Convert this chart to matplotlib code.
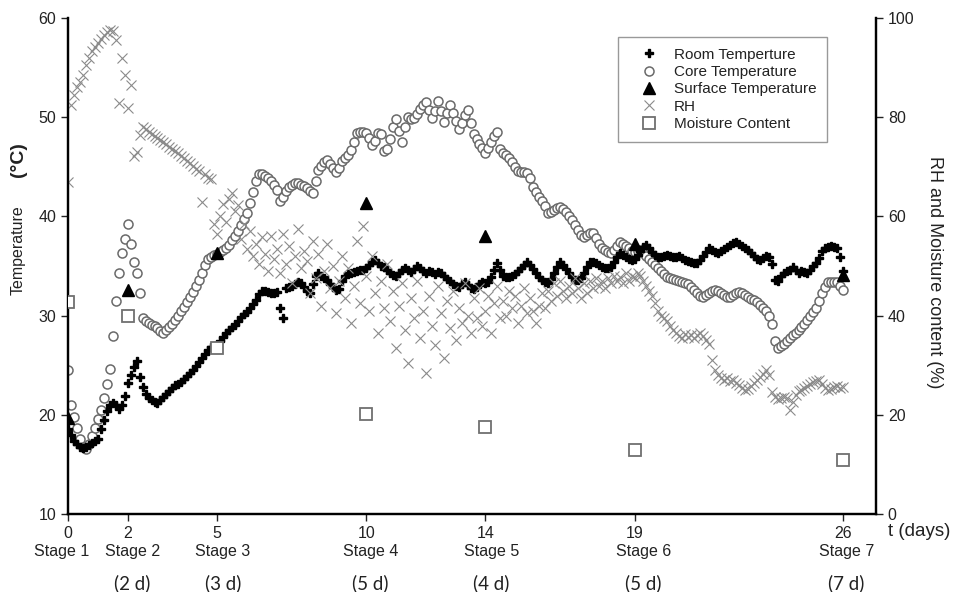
import numpy as np
import matplotlib.pyplot as plt

plt.rcParams['font.family'] = ['Liberation Sans', 'DejaVu Sans']

# readings every 0.1 day
days = np.round(np.arange(0, 26.05, 0.1), 1)

room_temp = [
    18.6, 18.0, 17.4, 17.1, 16.8, 16.7, 16.8, 17.0, 17.2, 17.4,
    17.6, 18.6, 19.5, 20.4, 21.0, 21.2, 21.0, 20.6, 21.0, 21.9,
    23.2, 24.0, 24.8, 25.4, 23.8, 22.8, 22.1, 21.7, 21.5, 21.3,
    21.2, 21.5, 21.8, 22.1, 22.4, 22.7, 23.0, 23.1, 23.3, 23.6,
    23.9, 24.2, 24.5, 24.9, 25.3, 25.7, 26.1, 26.5, 26.8, 26.9,
    27.0, 27.4, 27.8, 28.2, 28.5, 28.8, 29.1, 29.5, 29.9, 30.2,
    30.4, 30.8, 31.2, 31.6, 32.2, 32.5, 32.5, 32.4, 32.3, 32.3,
    32.4, 30.8, 29.8, 32.8, 32.9, 33.0, 33.2, 33.4, 33.3, 32.9,
    32.5, 32.3, 33.2, 34.0, 34.3, 34.0, 33.8, 33.6, 33.2, 32.9,
    32.6, 32.7, 33.5, 34.0, 34.2, 34.3, 34.4, 34.5, 34.6, 34.6,
    34.8, 35.1, 35.4, 35.6, 35.3, 35.0, 34.9, 34.6, 34.3, 34.1,
    34.0, 34.3, 34.6, 34.8, 34.6, 34.4, 34.7, 35.0, 34.8, 34.5,
    34.3, 34.5, 34.4, 34.2, 34.4, 34.3, 34.0, 33.7, 33.5, 33.2,
    33.0, 32.9, 33.2, 33.4, 33.1, 32.8, 32.7, 32.9, 33.2, 33.4,
    33.3, 33.4, 33.9, 34.6, 35.3, 34.6, 34.0, 33.9, 33.9, 34.0,
    34.2, 34.5, 34.8, 35.1, 35.4, 35.1, 34.7, 34.3, 33.9, 33.6,
    33.4, 33.3, 33.7, 34.3, 34.9, 35.4, 35.1, 34.7, 34.3, 33.9,
    33.6, 33.6, 33.8, 34.3, 34.9, 35.4, 35.4, 35.3, 35.1, 34.9,
    34.8, 34.8, 34.9, 35.4, 35.9, 36.3, 36.1, 35.9, 35.7, 35.6,
    35.7, 36.1, 36.5, 36.9, 37.1, 36.8, 36.4, 36.1, 35.9, 35.9,
    36.0, 36.1, 36.0, 35.9, 35.9, 36.0, 35.8, 35.6, 35.5, 35.4,
    35.3, 35.3, 35.6, 36.0, 36.4, 36.8, 36.6, 36.4, 36.3, 36.5,
    36.7, 36.9, 37.1, 37.3, 37.4, 37.2, 37.0, 36.8, 36.6, 36.3,
    36.0, 35.7, 35.6, 35.8, 36.0, 35.9, 35.2, 33.6, 33.5, 34.0,
    34.3, 34.5, 34.6, 34.9, 34.6, 34.3, 34.5, 34.4, 34.3, 34.6,
    35.0, 35.3, 35.8, 36.5, 36.8, 36.9, 37.0, 36.9, 36.8, 35.9,
    34.5,
]

core_temp = [
    24.5, 21.0, 19.8, 18.7, 17.6, 16.8, 16.5, 17.1, 17.9, 18.7,
    19.6, 20.5, 21.7, 23.1, 24.6, 27.9, 31.5, 34.3, 36.3, 37.7,
    39.2, 37.2, 35.4, 34.3, 32.3, 29.8, 29.5, 29.3, 29.1, 28.9,
    28.7, 28.4, 28.2, 28.5, 28.8, 29.2, 29.6, 30.0, 30.5, 30.9,
    31.4, 31.9, 32.4, 33.0, 33.6, 34.3, 35.1, 35.7, 35.9, 36.1,
    36.2, 36.4, 36.6, 36.8, 37.1, 37.6, 38.0, 38.5, 39.1, 39.7,
    40.3, 41.4, 42.5, 43.6, 44.3, 44.3, 44.1, 43.9, 43.6, 43.2,
    42.7, 41.6, 42.0, 42.6, 43.0, 43.2, 43.4, 43.4, 43.2, 43.1,
    42.9, 42.6, 42.4, 43.6, 44.7, 45.1, 45.5, 45.7, 45.3, 44.9,
    44.5, 44.9, 45.6, 45.9, 46.2, 46.7, 47.5, 48.4, 48.5, 48.5,
    48.4, 47.9, 47.2, 47.6, 48.4, 48.3, 46.6, 46.8, 47.8, 49.0,
    49.8, 48.6, 47.5, 49.0, 50.0, 49.8, 49.9, 50.3, 50.8, 51.2,
    51.5, 50.7, 49.9, 50.6, 51.6, 50.6, 49.5, 50.4, 51.2, 50.4,
    49.6, 48.8, 49.4, 50.2, 50.7, 49.4, 48.3, 47.8, 47.3, 46.9,
    46.4, 46.9, 47.5, 48.1, 48.5, 46.8, 46.4, 46.2, 45.9, 45.5,
    45.0, 44.6, 44.5, 44.5, 44.4, 43.9, 43.0, 42.5, 42.0, 41.6,
    41.0, 40.3, 40.4, 40.6, 40.8, 40.9, 40.7, 40.4, 40.0, 39.6,
    39.1, 38.6, 38.1, 37.9, 38.1, 38.3, 38.3, 37.8, 37.2, 36.8,
    36.6, 36.4, 36.3, 36.6, 37.0, 37.4, 37.2, 37.0, 36.8, 36.5,
    36.4, 36.5, 36.6, 36.3, 36.0, 35.7, 35.4, 35.1, 34.8, 34.5,
    34.2, 33.9, 33.8, 33.7, 33.6, 33.5, 33.4, 33.3, 33.2, 32.9,
    32.6, 32.3, 32.0, 31.9, 32.1, 32.3, 32.5, 32.6, 32.5, 32.3,
    32.1, 31.9, 31.9, 32.1, 32.3, 32.4, 32.3, 32.1, 31.9, 31.7,
    31.6, 31.4, 31.1, 30.8, 30.5, 30.0, 29.2, 27.4, 26.7, 26.9,
    27.1, 27.4, 27.7, 28.0, 28.2, 28.5, 28.8, 29.2, 29.6, 30.0,
    30.4, 30.8, 31.5, 32.3, 32.9, 33.4, 33.4, 33.4, 33.4, 33.0,
    32.6,
]

rh = [
    67.0, 82.5, 84.5, 86.0, 87.0, 88.5, 90.5, 92.0, 93.3, 94.2,
    95.0, 95.8, 96.5, 97.1, 97.6, 97.3, 95.5, 82.8, 92.0, 88.5,
    81.9, 86.5, 72.2, 73.0, 76.5, 78.0, 77.6, 77.0, 76.6, 76.2,
    75.8, 75.4, 75.0, 74.5, 74.0, 73.6, 73.1, 72.7, 72.2, 71.8,
    71.2, 70.7, 70.2, 69.6, 69.2, 63.0, 68.5, 67.8, 67.5, 58.5,
    56.5, 60.0, 62.5, 58.8, 63.5, 64.8, 61.0, 62.2, 55.5, 58.5,
    53.5, 57.0, 52.0, 54.5, 50.5, 55.8, 52.5, 49.0, 56.0, 51.5,
    53.5, 48.5, 56.5, 50.5, 54.0, 46.5, 52.0, 57.5, 49.5, 53.0,
    51.0, 44.5, 55.0, 47.5, 52.5, 42.0, 49.0, 54.5, 45.5, 50.0,
    40.5, 47.0, 52.0, 43.5, 49.5, 38.5, 46.0, 55.0, 42.5, 58.0,
    48.0, 41.0, 52.0, 44.5, 36.5, 47.0, 41.5, 50.5, 39.0, 45.0,
    33.5, 42.0, 46.5, 37.0, 30.5, 43.5, 39.5, 47.0, 35.5, 41.0,
    28.5, 44.0, 38.0, 34.0, 46.0, 40.5, 31.5, 43.0, 37.5, 45.0,
    35.0, 41.5, 38.5, 46.5, 40.0, 36.5, 43.5, 39.5, 45.5, 38.0,
    41.0, 44.0, 36.5, 42.5, 46.0, 39.5, 43.0, 40.0, 45.0, 41.5,
    44.0, 38.5, 42.0, 45.5, 40.5, 43.5, 41.0, 38.5, 42.0, 44.5,
    41.5, 45.0, 43.0, 46.5, 44.0, 47.0, 45.0, 43.5, 46.0, 44.5,
    47.5, 45.5, 43.5, 46.5, 44.5, 47.0, 45.5, 47.5, 46.0, 47.0,
    45.5, 47.5, 46.5, 48.0, 47.0, 47.8, 46.5, 48.5, 47.0, 48.0,
    47.5, 48.6, 48.0, 47.0, 46.0, 45.0, 44.0, 42.5, 41.0, 40.0,
    39.5, 39.0, 38.0, 37.0, 36.5, 35.8, 35.5, 36.2, 35.7, 36.0,
    35.5, 36.0, 36.5, 35.8, 35.0, 34.3, 31.0, 29.0, 28.0, 27.5,
    27.0, 27.5, 26.8, 27.0, 26.5, 26.0, 25.5, 25.0, 25.2, 25.8,
    26.5, 27.0, 27.6, 28.3, 29.0, 28.0, 24.5, 23.6, 23.2, 23.4,
    23.6, 23.4, 21.0, 22.5, 24.0, 24.8, 25.0, 25.4, 25.8, 26.3,
    26.6, 26.8, 27.0, 26.2, 25.5, 25.0, 25.2, 25.6, 25.8, 25.4,
    25.6,
]

sample_days = [0, 2, 5, 10, 14, 19, 26]
surface_temp = [19.7, 32.6, 36.3, 41.4, 38.0, 37.2, 34.1]
moisture = [42.7, 40.0, 33.5, 20.2, 17.5, 12.9, 10.9]

stage_pos = [-0.23, 2.15, 5.2, 10.15, 14.2, 19.3, 26.1]
stage_names = ['Stage 1', 'Stage 2', 'Stage 3', 'Stage 4', 'Stage 5', 'Stage 6', 'Stage 7']
stage_lengths = ['', '(2 d)', '(3 d)', '(5 d)', '(4 d)', '(5 d)', '(7 d)']

fig = plt.figure(figsize=(9.57, 5.92), dpi=100)
ax = fig.add_axes([0.0711, 0.1318, 0.8443, 0.8378])
ax2 = ax.twinx()

h_room, = ax.plot(days, room_temp, ls='none', marker='P', ms=6, color='black',
                  mec='black', label='Room Temperture', zorder=3)
h_core, = ax.plot(days, core_temp, ls='none', marker='o', ms=6.5, mfc='white',
                  mec='#6a6a6a', mew=1.1, label='Core Temperature', zorder=2)
h_surf, = ax.plot(sample_days, surface_temp, ls='none', marker='^', ms=8,
                  color='black', label='Surface Temperature', zorder=4)
h_rh, = ax2.plot(days, rh, ls='none', marker='x', ms=7.5, color='#8a8a8a',
                 mew=0.8, label='RH', zorder=2)
h_mc, = ax2.plot(sample_days, moisture, ls='none', marker='s', ms=9, mfc='white',
                 mec='#707070', mew=1.3, label='Moisture Content', zorder=3)

ax.set_xlim(0, 27.1)
ax.set_ylim(10, 60)
ax2.set_ylim(0, 100)
ax.set_xticks(sample_days)
ax.set_yticks(range(10, 61, 10))
ax2.set_yticks(range(0, 101, 20))

for a in (ax, ax2):
    a.spines['top'].set_visible(False)
    for s in ('left', 'right', 'bottom'):
        a.spines[s].set_linewidth(1.6)
    a.patch.set_visible(False)
ax.tick_params(axis='both', labelsize=11.5, colors='#222222', width=1, length=5)
ax2.tick_params(axis='y', labelsize=11.5, colors='#222222', width=1, length=5)

for x, name, dur in zip(stage_pos, stage_names, stage_lengths):
    ax.text(x, -0.075, name, transform=ax.get_xaxis_transform(), ha='center',
            va='center', fontsize=11.5, color='#222222')
    ax.text(x, -0.14, dur, transform=ax.get_xaxis_transform(), ha='center',
            va='center', fontsize=13.5, color='#222222', family=['Lato', 'DejaVu Sans'])

fig.text(888 / 957, 1 - 532 / 592, 't (days)', ha='left', va='center', fontsize=13.5,
         color='#222222')
fig.text(18 / 957, 1 - 250 / 592, 'Temperature', rotation=90, ha='center',
         va='center', fontsize=11.5, color='#222222')
fig.text(18 / 957, 1 - 160 / 592, '(°C)', rotation=90, ha='center', va='center',
         fontsize=14, fontweight='bold', color='#222222')
fig.text(935 / 957, 1 - 272 / 592, 'RH and Moisture content (%)', rotation=270,
         ha='center', va='center', fontsize=13, color='#222222')

leg = ax2.legend(handles=[h_room, h_core, h_surf, h_rh, h_mc],
                 loc='upper left', bbox_to_anchor=(618 / 957, 1 - 37 / 592),
                 bbox_transform=fig.transFigure, fontsize=11, frameon=True,
                 fancybox=False, edgecolor='#808080', borderpad=0.7,
                 handlelength=2.6, handletextpad=0.35, labelspacing=0.22,
                 borderaxespad=0)
leg.get_frame().set_linewidth(1.0)
for t in leg.get_texts():
    t.set_color('#222222')

fig.savefig('out.png', dpi=100)
